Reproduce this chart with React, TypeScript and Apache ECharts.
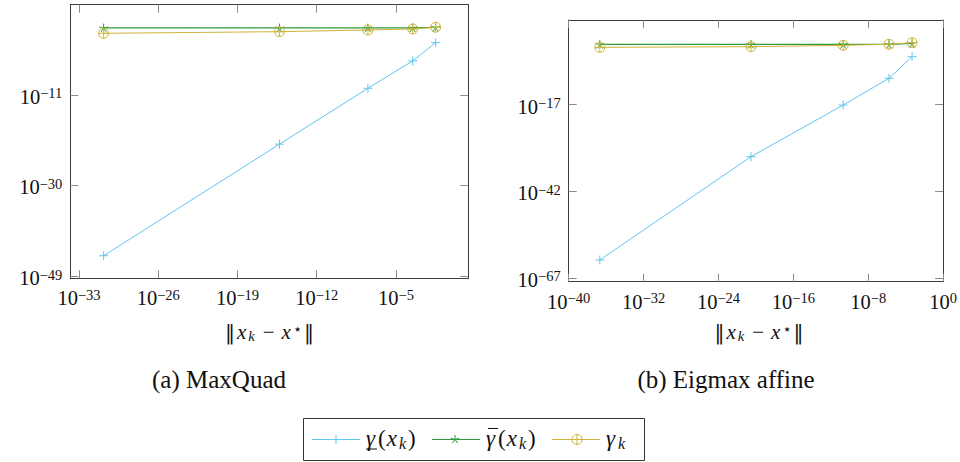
import React, { useEffect, useRef } from "react";
import * as echarts from "echarts";

// ---- data ----
const maxQuadX = [1.5e-31, 5.1e-16, 3.3e-8, 3.0e-4, 3.2e-2];
const maxQuadLower = [1.8e-45, 4.6e-22, 2.5e-10, 1.35e-4, 0.89];
const maxQuadUpper = [1.15e3, 1.15e3, 1.15e3, 1.2e3, 1.5e3];
const maxQuadGamma = [85, 186, 427, 692, 1.58e3];

const eigX = [2.1e-37, 3.0e-21, 2.1e-11, 1.66e-6, 4.8e-4];
const eigLower = [1.6e-62, 1e-32, 8e-18, 4e-10, 7e-4];
const eigUpper = [2.6, 2.6, 2.6, 2.6, 5];
const eigGamma = [0.35, 0.54, 1.35, 2.6, 7.6];

// tick exponents (labels are 10^n)
const maxQuadXTicks = [-33, -26, -19, -12, -5];
const maxQuadYTicks = [-49, -30, -11];
const eigXTicks = [-40, -32, -24, -16, -8, 0];
const eigYTicks = [-67, -42, -17];

const captions = ["(a) MaxQuad", "(b) Eigmax affine"];

const BLUE = "#5ec6ef";
const GREEN = "#2f9a3e";
const YELLOW = "#cfb43a";
const SERIF = "Liberation Serif";
const SYM = "DejaVu Sans";
const SYMSERIF = "DejaVu Serif";

const tickRich = {
  b: { fontSize: 20.5, lineHeight: 22, fontFamily: SERIF, color: "#111" },
  s: { fontSize: 14.5, lineHeight: 14, verticalAlign: "top", fontFamily: SERIF, color: "#111" },
};
const tickFmt = (v: number) => `{b|10}{s|${v < 0 ? "\u2212" + Math.abs(v) : String(v)}}`;

const mkMathRich = (fs: number) => ({
  n: { fontSize: fs, lineHeight: fs + 2, fontFamily: SERIF, fill: "#111" },
  bar: { fontSize: fs - 1, lineHeight: fs + 2, fontFamily: SYMSERIF, fill: "#111", padding: [0, 1, 0, 1] },
  i: { fontSize: fs, lineHeight: fs + 2, fontFamily: SERIF, fontStyle: "italic", fill: "#111", padding: [0, 2, 0, 1] },
  g: { fontSize: fs, lineHeight: fs + 2, fontFamily: SERIF, fontStyle: "italic", fill: "#111", padding: [0, 3, 0, 0] },
  m: { fontSize: fs, lineHeight: fs + 2, fontFamily: SERIF, fill: "#111", padding: [0, 6, 0, 6] },
  sub: { fontSize: fs * 0.7, lineHeight: 8, verticalAlign: "bottom", fontFamily: SERIF, fontStyle: "italic", fill: "#111", padding: [0, 2, 0, 0] },
  sup: { fontSize: fs * 0.7, lineHeight: 12, verticalAlign: "top", fontFamily: SYM, fill: "#111", padding: [0, 1, 0, 0] },
});
const axisRich = mkMathRich(21);
const legendRich = mkMathRich(23);

const toPts = (xs: number[], ys: number[]) => xs.map((x, i) => [Math.log10(x), Math.log10(ys[i])]);

const plusSym = "path://M0,5L10,5M5,0L5,10";
const starSym = (() => {
  const angs = [18, 90, 162, 234, 306];
  return "path://" + angs.map((a) => {
    const r = (a * Math.PI) / 180;
    return `M5,5L${(5 + 5 * Math.cos(r)).toFixed(3)},${(5 - 5 * Math.sin(r)).toFixed(3)}`;
  }).join("");
})();
const oplusSym = "path://M0,5A5,5 0 1,0 10,5A5,5 0 1,0 0,5M0,5L10,5M5,0L5,10";

function makeAxes(gridIndex: number, xr: [number, number], yr: [number, number], xt: number[], yt: number[]) {
  const lineStyle = { color: "#3c3c3c", width: 1 };
  const tick = (vals: number[]) => ({ show: true, inside: true, length: 8, lineStyle: { color: "#8c8c8c", width: 1 }, customValues: vals });
  const xAxes = [
    {
      gridIndex, type: "value", position: "bottom", min: xr[0], max: xr[1],
      axisLine: { show: true, onZero: false, lineStyle }, axisTick: tick(xt), splitLine: { show: false },
      axisLabel: { show: true, customValues: xt, formatter: tickFmt, rich: tickRich, margin: 9, hideOverlap: false },
    },
    {
      gridIndex, type: "value", position: "top", min: xr[0], max: xr[1],
      axisLine: { show: true, onZero: false, lineStyle }, axisTick: tick(xt), splitLine: { show: false },
      axisLabel: { show: false },
    },
  ];
  const yAxes = [
    {
      gridIndex, type: "value", position: "left", min: yr[0], max: yr[1],
      axisLine: { show: true, onZero: false, lineStyle }, axisTick: tick(yt), splitLine: { show: false },
      axisLabel: { show: true, customValues: yt, formatter: tickFmt, rich: tickRich, margin: 8, padding: [4, 0, 0, 0] },
    },
    {
      gridIndex, type: "value", position: "right", min: yr[0], max: yr[1],
      axisLine: { show: true, onZero: false, lineStyle }, axisTick: tick(yt), splitLine: { show: false },
      axisLabel: { show: false },
    },
  ];
  return { xAxes, yAxes };
}

function seriesFor(gi: number, xs: number[], lower: number[], upper: number[], gamma: number[]) {
  const base = { type: "line", xAxisIndex: gi * 2, yAxisIndex: gi * 2, showSymbol: true, silent: true, clip: false };
  return [
    { ...base, name: "lower", data: toPts(xs, lower), symbol: plusSym, symbolSize: 9,
      lineStyle: { color: BLUE, width: 1 }, itemStyle: { color: "transparent", borderColor: BLUE, borderWidth: 1 } },
    { ...base, name: "upper", data: toPts(xs, upper), symbol: starSym, symbolSize: 9, symbolKeepAspect: true,
      lineStyle: { color: GREEN, width: 1.2 }, itemStyle: { color: "transparent", borderColor: GREEN, borderWidth: 1 } },
    { ...base, name: "gamma", data: toPts(xs, gamma), symbol: oplusSym, symbolSize: 10,
      lineStyle: { color: YELLOW, width: 1 }, itemStyle: { color: "transparent", borderColor: YELLOW, borderWidth: 1 } },
  ];
}

const ln = (x1: number, y1: number, x2: number, y2: number, c: string, w = 1) => ({
  type: "line", shape: { x1, y1, x2, y2 }, style: { stroke: c, lineWidth: w }, silent: true,
});

function legendGraphics() {
  const y = 439.5;
  const els: any[] = [];
  els.push({ type: "rect", shape: { x: 303.5, y: 418.5, width: 341, height: 42 }, style: { fill: "#fff", stroke: "#333", lineWidth: 1 } });
  // item 1
  els.push(ln(312, y, 360, y, BLUE));
  els.push(ln(331.5, y, 340.5, y, BLUE), ln(336, y - 4.5, 336, y + 4.5, BLUE));
  // item 2
  els.push(ln(432, y, 480, y, GREEN));
  [18, 90, 162, 234, 306].forEach((a) => {
    const r = (a * Math.PI) / 180;
    els.push(ln(455, y, 455 + 4.5 * Math.cos(r), y - 4.5 * Math.sin(r), GREEN));
  });
  // item 3
  els.push(ln(552, y, 600, y, YELLOW));
  els.push({ type: "circle", shape: { cx: 577, cy: y, r: 5 }, style: { stroke: YELLOW, fill: "none", lineWidth: 1 } });
  els.push(ln(572, y, 582, y, YELLOW), ln(577, y - 5, 577, y + 5, YELLOW));
  const txt = (x: number, text: string) => ({
    type: "text", x, y: y - 1,
    style: { text, rich: legendRich, align: "left", verticalAlign: "middle" },
    silent: true,
  });
  els.push(txt(366, "{g|γ}{n|(}{i|x}{sub|k}{n|)}"));
  els.push(ln(366, 449, 377, 449, "#111", 1));
  els.push(txt(486, "{g|γ}{n|(}{i|x}{sub|k}{n|)}"));
  els.push(ln(488, 428.5, 498, 428.5, "#111", 1));
  els.push(txt(606, "{g|γ}{sub|k}"));
  return els;
}

function textAt(x: number, y: number, text: string, rich: any) {
  return {
    type: "text", x, y,
    style: { text, rich, align: "center", verticalAlign: "middle" },
    silent: true,
  };
}

export default function App() {
  const ref = useRef<HTMLDivElement>(null);
  useEffect(() => {
    if (!ref.current) return;
    const chart = echarts.init(ref.current, null, { renderer: "svg" });
    const a = makeAxes(0, [-33.77, 1.39], [-49.48, 7.93], maxQuadXTicks, maxQuadYTicks);
    const b = makeAxes(1, [-40, 0], [-68.07, 7.43], eigXTicks, eigYTicks);
    const capRich = { c: { fontSize: 25, fontFamily: SERIF, fill: "#111" } };
    const axisTitle = "{bar|\u2016}{i|x}{sub|k}{m|\u2212}{i|x}{sup|\u22c6}{bar|\u2016}";
    chart.setOption({
      animation: false,
      backgroundColor: "#fff",
      textStyle: { fontFamily: SERIF },
      grid: [
        { left: 70.3, top: 4.7, width: 398, height: 273.6, containLabel: false },
        { left: 568.7, top: 20, width: 380.6, height: 261.7, containLabel: false },
      ],
      xAxis: [...a.xAxes, ...b.xAxes],
      yAxis: [...a.yAxes, ...b.yAxes],
      series: [
        ...seriesFor(0, maxQuadX, maxQuadLower, maxQuadUpper, maxQuadGamma),
        ...seriesFor(1, eigX, eigLower, eigUpper, eigGamma),
      ],
      graphic: [
        textAt(269.5, 332, axisTitle, axisRich),
        textAt(759, 332, axisTitle, axisRich),
        textAt(219, 379, `{c|${captions[0]}}`, capRich),
        textAt(726, 379, `{c|${captions[1]}}`, capRich),
        ...legendGraphics(),
      ],
    });
    return () => chart.dispose();
  }, []);
  return <div ref={ref} style={{ position: "absolute", left: 0, top: 0, width: 960, height: 462 }} />;
}
